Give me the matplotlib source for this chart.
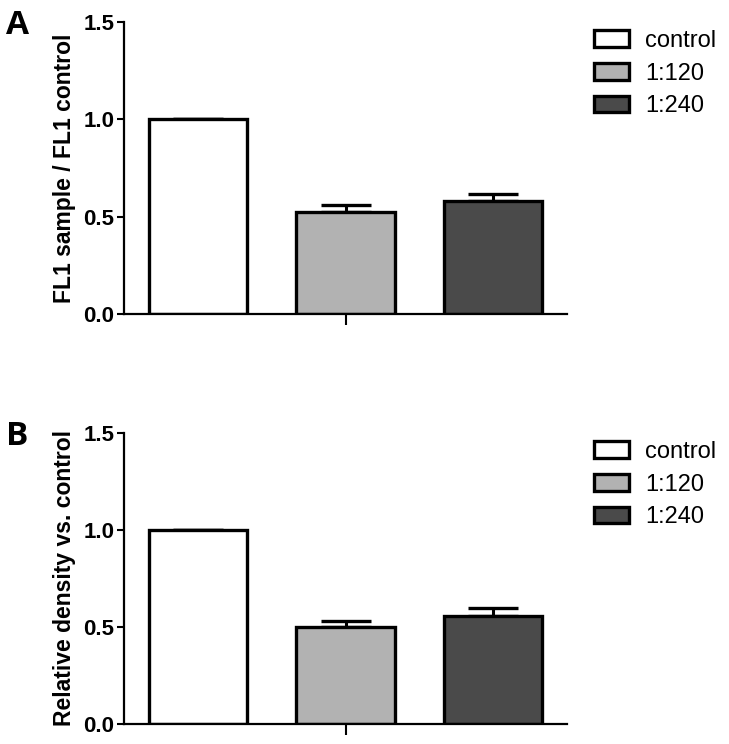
import matplotlib
matplotlib.use("Agg")
import matplotlib.pyplot as plt
from matplotlib.patches import Patch

plt.rcParams['font.family'] = ['Liberation Sans', 'DejaVu Sans']

groups = ["control", "1:120", "1:240"]
colors = ["#ffffff", "#b2b2b2", "#4a4a4a"]

valsA = [1.0, 0.525, 0.582]
errA = [0.0, 0.035, 0.034]
valsB = [1.0, 0.501, 0.556]
errB = [0.0, 0.031, 0.040]

ylabels = ["FL1 sample / FL1 control", "Relative density vs. control"]
panel_labels = ["A", "B"]
yticks = [0.0, 0.5, 1.0, 1.5]
ytick_labels = ["0.0", "0.5", "1.0", "1.5"]

W, H = 729, 744
fig = plt.figure(figsize=(W / 100, H / 100), dpi=100)

# axes boxes in pixels: (left, top, right, bottom)
boxes = [(124, 22, 567, 314), (124, 433, 567, 724)]
legend_tops = [30, 441]
label_pos = [(6, 34), (6, 445)]

for i, (vals, errs) in enumerate([(valsA, errA), (valsB, errB)]):
    l, t, r, b = boxes[i]
    ax = fig.add_axes([l / W, 1 - b / H, (r - l) / W, (b - t) / H])
    x = list(range(len(groups)))
    ax.bar(x, vals, width=0.667, color=colors, edgecolor="black",
           linewidth=2.4, zorder=3)
    ax.errorbar(x, vals, yerr=[[0] * len(errs), errs], fmt="none",
                ecolor="black", elinewidth=2.2, capsize=18, capthick=2.4,
                zorder=2)
    ax.set_xlim(-0.5, 2.5)
    ax.set_ylim(0, 1.5)
    ax.set_yticks(yticks)
    ax.set_yticklabels(ytick_labels, fontsize=16, fontweight="bold")
    ax.set_xticks([1])
    ax.set_xticklabels([""])
    ax.tick_params(axis="y", length=5, width=1.5, pad=2)
    ax.tick_params(axis="x", length=8, width=1.5)
    for s in ["top", "right"]:
        ax.spines[s].set_visible(False)
    for s in ["left", "bottom"]:
        ax.spines[s].set_linewidth(1.6)
    ax.spines["bottom"].set_zorder(5)
    ax.set_ylabel(ylabels[i], fontsize=16.5, fontweight="bold", labelpad=5)

    handles = [Patch(facecolor=c, edgecolor="black", linewidth=2.4)
               for c in colors]
    fig.legend(handles, groups, loc="upper left",
               bbox_to_anchor=(594 / W, 1 - legend_tops[i] / H),
               frameon=False, fontsize=17, handlelength=1.5,
               handleheight=0.72, handletextpad=0.65, labelspacing=0.45,
               borderpad=0, borderaxespad=0)

    fig.text(label_pos[i][0] / W, 1 - label_pos[i][1] / H, panel_labels[i],
             fontsize=24, fontweight="bold", family=["Open Sans", "DejaVu Sans"],
             ha="left", va="baseline")

fig.savefig("out.png", dpi=100)
